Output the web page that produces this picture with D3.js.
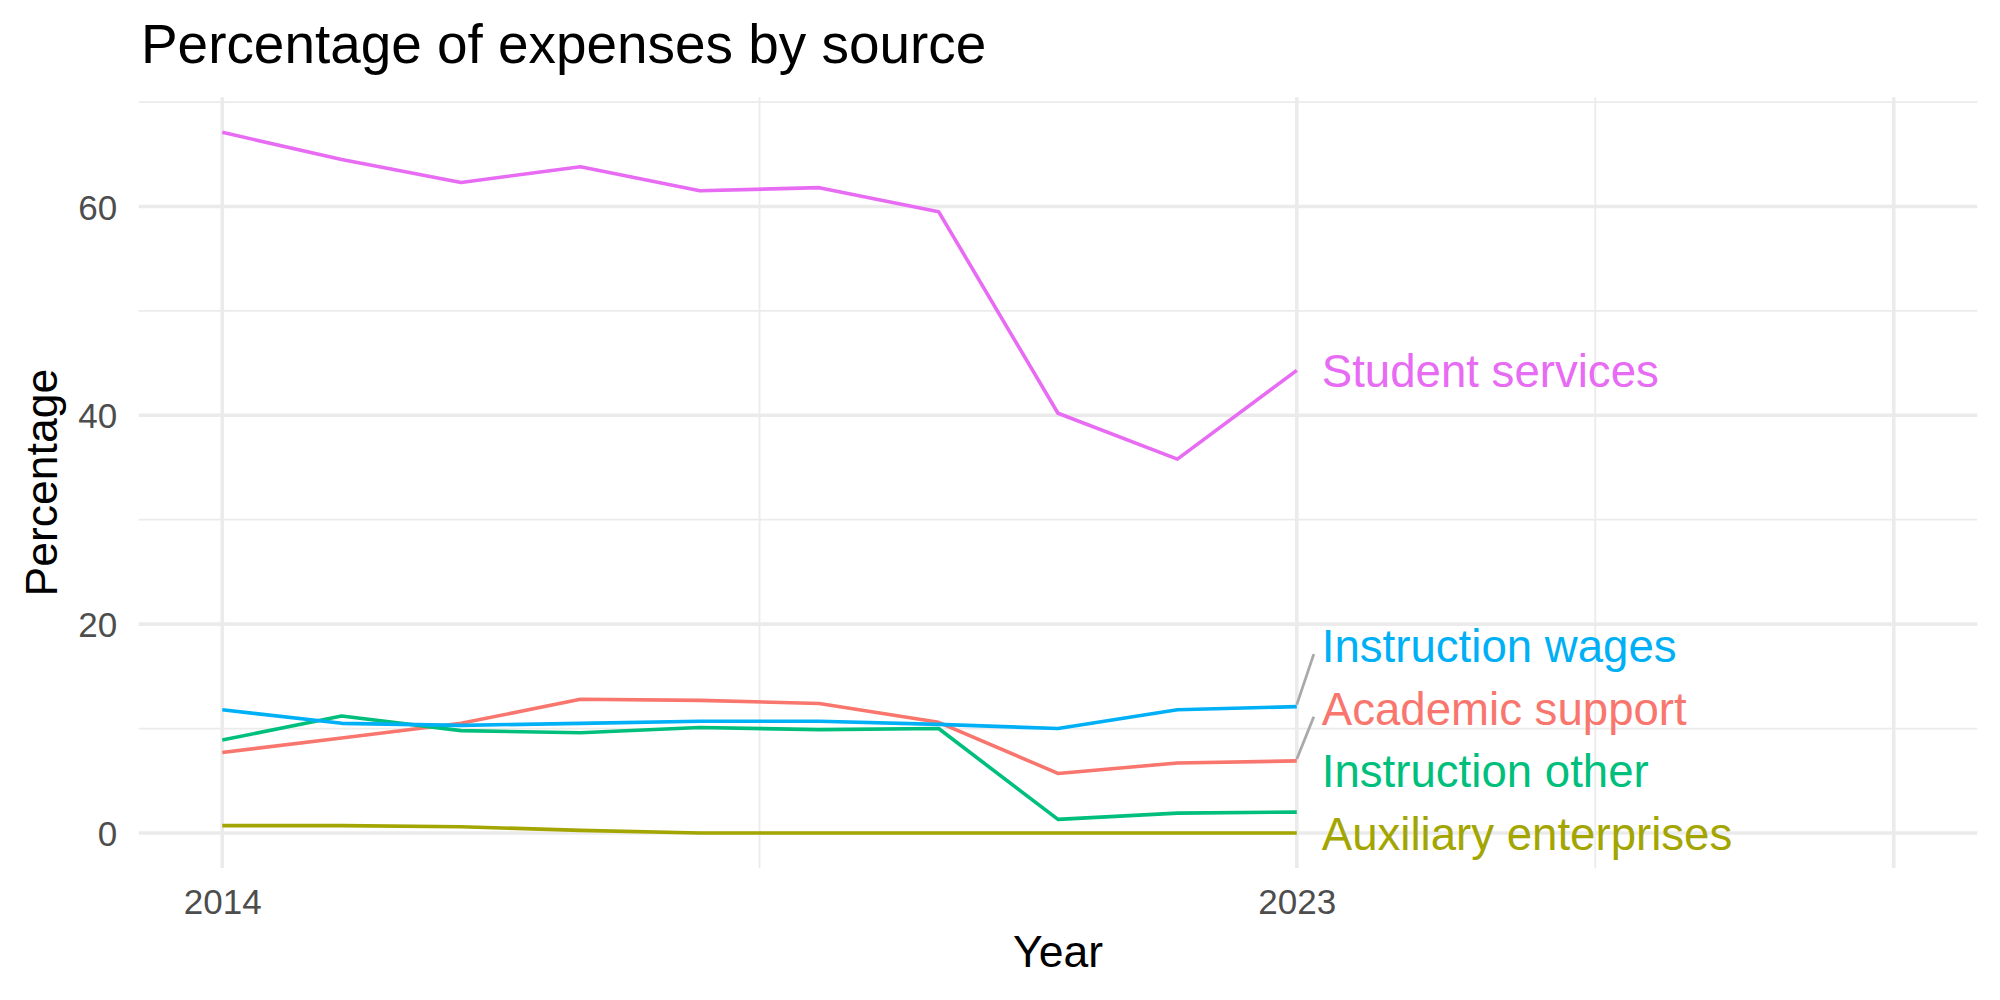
<!DOCTYPE html>
<html>
<head>
<meta charset="utf-8">
<script src="https://cdn.jsdelivr.net/npm/d3@7"></script>
<style>
  html, body { margin: 0; padding: 0; background: #ffffff; }
  svg { display: block; font-family: "Liberation Sans", Arial, Helvetica, sans-serif; }
</style>
</head>
<body>
<svg id="chart" width="2000" height="1000"></svg>
<script>
// ---- Data ----
const years = [2014, 2015, 2016, 2017, 2018, 2019, 2020, 2021, 2022, 2023];
const seriesNames = ["Academic support", "Auxiliary enterprises", "Instruction other", "Instruction wages", "Student services"];
const academicSupport      = [7.7, 9.1, 10.5, 12.8, 12.7, 12.4, 10.6, 5.7, 6.7, 6.9];
const auxiliaryEnterprises = [0.7, 0.7, 0.6, 0.25, 0, 0, 0, 0, 0, 0];
const instructionOther     = [8.9, 11.2, 9.8, 9.6, 10.1, 9.9, 10.0, 1.3, 1.9, 2.0];
const instructionWages     = [11.8, 10.5, 10.3, 10.5, 10.7, 10.7, 10.4, 10.0, 11.8, 12.1];
const studentServices      = [67.1, 64.5, 62.3, 63.8, 61.5, 61.8, 59.5, 40.2, 35.8, 44.3];
const seriesColors = ["#F8766D", "#A3A500", "#00BF7D", "#00B0F6", "#E76BF3"];
const xMajorBreaks = [2014, 2023, 2028];
const xMinorBreaks = [2018.5, 2025.5];
const xTickLabels = ["2014", "2023", ""];
const yMajorBreaks = [0, 20, 40, 60];
const yMinorBreaks = [10, 30, 50, 70];
const xLimits = [2014, 2028];
const titleText = "Percentage of expenses by source";
const xTitle = "Year";
const yTitle = "Percentage";

const allValues = [academicSupport, auxiliaryEnterprises, instructionOther, instructionWages, studentServices];
const series = seriesNames.map((name, i) => ({
  name, color: seriesColors[i],
  values: years.map((y, j) => ({ year: y, value: allValues[i][j] }))
}));

// ---- Layout ----
const panel = { left: 138.7, right: 1977.3, top: 97.3, bottom: 868 };

const expand = (lo, hi, m) => [lo - (hi - lo) * m, hi + (hi - lo) * m];
const yMax = d3.max(allValues.flat()), yMin = Math.min(0, d3.min(allValues.flat()));
const x = d3.scaleLinear().domain(expand(xLimits[0], xLimits[1], 0.05)).range([panel.left, panel.right]);
const y = d3.scaleLinear().domain(expand(yMin, yMax, 0.05)).range([panel.bottom, panel.top]);

const svg = d3.select("#chart");
const grid = "#EBEBEB";

// grid: minor
const g = svg.append("g");
g.selectAll("line.ymin").data(yMinorBreaks.filter(v => v >= y.domain()[0] && v <= y.domain()[1])).join("line")
  .attr("x1", panel.left).attr("x2", panel.right)
  .attr("y1", d => y(d)).attr("y2", d => y(d))
  .attr("stroke", grid).attr("stroke-width", 1.8);
g.selectAll("line.xmin").data(xMinorBreaks).join("line")
  .attr("y1", panel.top).attr("y2", panel.bottom)
  .attr("x1", d => x(d)).attr("x2", d => x(d))
  .attr("stroke", grid).attr("stroke-width", 1.8);
// grid: major
g.selectAll("line.ymaj").data(yMajorBreaks).join("line")
  .attr("x1", panel.left).attr("x2", panel.right)
  .attr("y1", d => y(d)).attr("y2", d => y(d))
  .attr("stroke", grid).attr("stroke-width", 3.6);
g.selectAll("line.xmaj").data(xMajorBreaks).join("line")
  .attr("y1", panel.top).attr("y2", panel.bottom)
  .attr("x1", d => x(d)).attr("x2", d => x(d))
  .attr("stroke", grid).attr("stroke-width", 3.6);

// axes (text only)
const yAxis = d3.axisLeft(y).tickValues(yMajorBreaks).tickSize(0).tickPadding(21.5);
const yg = svg.append("g").attr("transform", `translate(${panel.left},0)`).call(yAxis);
yg.select(".domain").remove();
yg.selectAll("text").attr("font-size", 35).attr("fill", "#4D4D4D")
  .attr("font-family", "Liberation Sans, Arial, sans-serif").attr("dy", "0.36em");

const xAxis = d3.axisBottom(x).tickValues(xMajorBreaks).tickSize(0).tickPadding(0)
  .tickFormat((d, i) => xTickLabels[i]);
const xg = svg.append("g").attr("transform", `translate(0,${panel.bottom})`).call(xAxis);
xg.select(".domain").remove();
xg.selectAll("text").attr("font-size", 35).attr("fill", "#4D4D4D")
  .attr("font-family", "Liberation Sans, Arial, sans-serif").attr("dy", null).attr("y", 46.3);

// lines
const line = d3.line().x(d => x(d.year)).y(d => y(d.value));
svg.append("g").selectAll("path").data(series).join("path")
  .attr("d", d => line(d.values))
  .attr("fill", "none").attr("stroke", d => d.color)
  .attr("stroke-width", 3.6).attr("stroke-linejoin", "round");

// end labels with simple repel (cascade upward from panel bottom)
const lastYear = years[years.length - 1];
const half = 31.3;
const ends = series.map(s => ({ s, py: y(s.values[s.values.length - 1].value) }))
  .sort((a, b) => b.py - a.py);
ends.forEach((e, i) => {
  const limit = i === 0 ? panel.bottom - half : ends[i - 1].ly - 2 * half;
  e.ly = Math.min(e.py, limit);
});
const labelX = x(lastYear) + 25;
const lab = svg.append("g");
lab.selectAll("line").data(ends.filter(e => Math.abs(e.ly - e.py) > 44)).join("line")
  .attr("x1", x(lastYear)).attr("y1", e => e.py - 2)
  .attr("x2", labelX - 8).attr("y2", e => e.ly + 9)
  .attr("stroke", "#A9A9A9").attr("stroke-width", 2.8);
lab.selectAll("text").data(ends).join("text")
  .attr("x", labelX).attr("y", e => e.ly).attr("dy", "0.37em")
  .attr("font-size", 45.6).attr("fill", e => e.s.color)
  .text(e => e.s.name);

// titles
svg.append("text").attr("x", 141).attr("y", 62.7)
  .attr("font-size", 54.9).attr("fill", "#000").text(titleText);
svg.append("text").attr("x", (panel.left + panel.right) / 2).attr("y", 966.7)
  .attr("text-anchor", "middle").attr("font-size", 44.5).attr("fill", "#000").text(xTitle);
svg.append("text").attr("transform", `translate(57,${(panel.top + panel.bottom) / 2}) rotate(-90)`)
  .attr("text-anchor", "middle").attr("font-size", 44.5).attr("fill", "#000").text(yTitle);
</script>
</body>
</html>
